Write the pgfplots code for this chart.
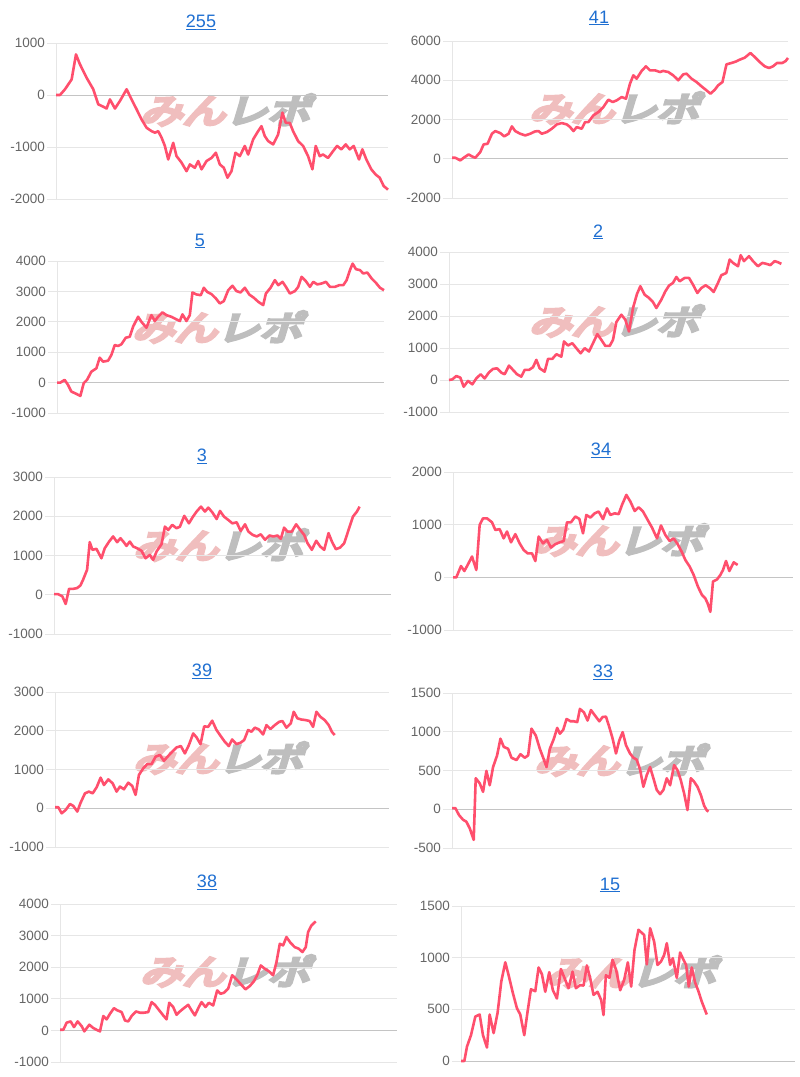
\documentclass[border=0pt]{standalone}
\usepackage{fontspec}
\setmainfont{Liberation Sans}
\newfontfamily\cjk{Noto Sans CJK JP}[FakeBold=10]
\usepackage{pgfplots}
\pgfplotsset{compat=1.18}
\definecolor{linec}{HTML}{FF4F6D}
\definecolor{gridc}{HTML}{E6E6E6}
\definecolor{zeroc}{HTML}{C4C4C4}
\definecolor{tickc}{HTML}{666666}
\definecolor{titlec}{HTML}{1F6FD1}
\definecolor{wmpink}{HTML}{F0BEBE}
\definecolor{wmgray}{HTML}{BEBEBE}
\pgfplotsset{panel/.style={
  scale only axis, anchor=south west, xmin=0,
  axis x line=none, axis y line*=left,
  y axis line style={draw=gridc, line width=0.8bp},
  ymajorgrids, grid style={draw=gridc, line width=0.8bp},
  ytick style={draw=gridc, line width=0.8bp},
  major tick length=9bp, tick align=outside,
  yticklabel style={font=\fontsize{13.5bp}{14bp}\selectfont, text=tickc, inner sep=2bp},
  /pgf/number format/assume math mode=true,
  /pgf/number format/1000 sep={},
  scaled y ticks=false,
  extra y ticks={0}, extra y tick labels={},
  extra y tick style={grid style={draw=zeroc, line width=0.9bp}, ytick style={draw=none}},
  clip=false,
},
dline/.style={draw=linec, line width=2.6bp, mark=none, line join=round}}
\newcommand\ttl[2]{\node[font=\fontsize{18bp}{20bp}\selectfont, text=titlec] at #1 {\underline{#2}};}
\newcommand\wm[1]{\node[font=\cjk\fontsize{34bp}{34bp}\selectfont, xslant=0.3, xscale=1.25, inner sep=0] at #1 {\textcolor{wmpink}{みん}\textcolor{wmgray}{レポ}};}
\begin{document}
\begin{tikzpicture}
\useasboundingbox (0,0) rectangle (800bp,-1077bp);
\wm{(229bp,-110bp)}
\wm{(618bp,-108bp)}
\wm{(221bp,-327bp)}
\wm{(618bp,-321bp)}
\wm{(222bp,-545bp)}
\wm{(622bp,-540bp)}
\wm{(222bp,-758bp)}
\wm{(623bp,-760bp)}
\wm{(229bp,-971bp)}
\wm{(635bp,-972bp)}
\ttl{(201bp,-22bp)}{255}
\ttl{(599bp,-18bp)}{41}
\ttl{(200bp,-241bp)}{5}
\ttl{(598bp,-232bp)}{2}
\ttl{(202bp,-456bp)}{3}
\ttl{(601bp,-450bp)}{34}
\ttl{(202bp,-671bp)}{39}
\ttl{(603bp,-672bp)}{33}
\ttl{(207bp,-882bp)}{38}
\ttl{(610bp,-885bp)}{15}
% 255
\begin{axis}[panel, at={(56bp,-199bp)}, width=332bp, height=156bp, xmax=997, ymin=-2000, ymax=1000, ytick={-2000,-1000,0,1000}]
\addplot[dline] coordinates {(0,0)(12,0)(27,110)(47,300)(60,780)(72,590)(92,330)(112,110)(127,-180)(142,-225)(152,-260)(162,-85)(177,-260)(192,-115)(212,110)(227,-85)(242,-275)(257,-470)(272,-630)(287,-695)(297,-725)(307,-695)(317,-820)(327,-980)(337,-1240)(352,-920)(362,-1175)(377,-1300)(392,-1465)(402,-1335)(417,-1400)(427,-1270)(437,-1430)(452,-1270)(467,-1210)(480,-1110)(492,-1335)(504,-1400)(515,-1590)(527,-1465)(539,-1110)(552,-1175)(567,-980)(577,-1145)(592,-855)(607,-695)(617,-600)(627,-790)(637,-885)(652,-950)(667,-760)(680,-340)(690,-535)(702,-535)(712,-695)(727,-885)(742,-980)(757,-1175)(770,-1430)(780,-980)(792,-1175)(802,-1145)(817,-1210)(832,-1080)(844,-980)(857,-1045)(870,-950)(882,-1045)(894,-980)(910,-1240)(920,-1045)(932,-1240)(947,-1430)(960,-1530)(972,-1590)(984,-1750)(997,-1820)};
\end{axis}
% 41
\begin{axis}[panel, at={(452bp,-198bp)}, width=336bp, height=157bp, xmax=1010, ymin=-2000, ymax=6000, ytick={-2000,0,2000,4000,6000}]
\addplot[dline] coordinates {(0,50)(10,50)(25,-85)(35,50)(50,220)(60,120)(70,50)(85,340)(95,730)(107,765)(120,1275)(130,1410)(145,1310)(157,1140)(170,1275)(180,1650)(190,1410)(205,1275)(220,1190)(235,1275)(250,1395)(260,1410)(270,1275)(285,1360)(300,1530)(315,1750)(330,1820)(345,1750)(355,1615)(365,1410)(375,1615)(390,1530)(400,1870)(410,1870)(425,2210)(440,2380)(455,2635)(470,3010)(483,2890)(495,2975)(510,3145)(523,3060)(535,3825)(545,4250)(555,4080)(570,4475)(583,4710)(595,4505)(610,4505)(625,4420)(635,4475)(650,4420)(665,4250)(680,4000)(695,4300)(705,4335)(720,4080)(735,3910)(750,3690)(765,3485)(777,3315)(790,3520)(800,3740)(813,3910)(825,4810)(840,4880)(855,4965)(865,5050)(880,5150)(897,5390)(910,5185)(925,4930)(940,4710)(953,4625)(965,4710)(977,4880)(993,4880)(1003,4980)(1010,5135)};
\end{axis}
% 5
\begin{axis}[panel, at={(57bp,-413bp)}, width=327bp, height=152bp, xmax=980, ymin=-1000, ymax=4000, ytick={-1000,0,1000,2000,3000,4000}]
\addplot[dline] coordinates {(0,0)(10,0)(23,90)(33,-75)(43,-295)(58,-370)(70,-440)(80,-20)(90,90)(103,360)(118,470)(128,820)(138,690)(153,720)(163,910)(173,1235)(183,1205)(193,1260)(206,1475)(218,1510)(228,1840)(243,2165)(253,2000)(268,1805)(283,2220)(293,2025)(303,2165)(316,2310)(328,2220)(343,2165)(356,2090)(368,2025)(376,2245)(388,2025)(398,2220)(406,2965)(418,2900)(431,2875)(440,3120)(450,2985)(463,2910)(476,2770)(488,2605)(500,2680)(513,3040)(526,3185)(538,3010)(550,2965)(563,3120)(576,2900)(590,2790)(603,2660)(618,2550)(626,2930)(640,3120)(653,3370)(663,3205)(676,3315)(686,3150)(698,2930)(713,3010)(723,3150)(733,3480)(746,3335)(758,3150)(768,3315)(780,3230)(793,3260)(806,3315)(818,3150)(833,3150)(846,3205)(858,3205)(868,3370)(878,3700)(886,3915)(896,3730)(908,3700)(918,3590)(930,3620)(943,3425)(956,3280)(968,3120)(980,3040)};
\end{axis}
% 2
\begin{axis}[panel, at={(449bp,-412bp)}, width=340bp, height=160bp, xmax=1020, ymin=-1000, ymax=4000, ytick={-1000,0,1000,2000,3000,4000}]
\addplot[dline] coordinates {(0,0)(10,20)(22,125)(34,75)(44,-210)(57,-30)(70,-135)(82,50)(95,180)(107,50)(120,240)(132,345)(144,365)(157,230)(167,180)(180,450)(192,315)(204,180)(217,105)(227,315)(240,315)(252,400)(262,630)(272,365)(287,260)(297,660)(310,660)(322,805)(337,730)(345,1205)(357,1080)(370,1150)(382,995)(395,835)(407,995)(420,890)(432,1150)(445,1435)(457,1255)(469,1065)(482,1065)(492,1255)(502,1810)(517,2040)(529,1885)(540,1515)(552,2250)(564,2690)(574,2930)(587,2665)(600,2565)(612,2435)(622,2250)(637,2510)(649,2770)(660,2950)(672,3035)(682,3220)(692,3085)(707,3190)(720,3190)(732,2980)(745,2720)(757,2875)(770,2960)(782,2875)(794,2750)(807,3035)(817,3275)(832,3345)(842,3765)(852,3660)(867,3555)(875,3900)(885,3715)(900,3870)(912,3715)(927,3555)(940,3660)(952,3630)(964,3590)(977,3715)(987,3680)(997,3630)};
\end{axis}
% 3
\begin{axis}[panel, at={(54bp,-634bp)}, width=337bp, height=157bp, xmax=1009, ymin=-1000, ymax=3000, ytick={-1000,0,1000,2000,3000}]
\addplot[dline] coordinates {(0,15)(12,15)(25,-40)(35,-235)(45,150)(57,150)(69,170)(79,235)(87,380)(99,635)(107,1340)(115,1145)(127,1170)(142,930)(152,1185)(165,1355)(177,1485)(189,1340)(199,1440)(209,1340)(217,1245)(227,1355)(237,1230)(249,1185)(262,1120)(274,930)(287,1015)(297,890)(307,1100)(322,1290)(332,1735)(342,1650)(354,1780)(367,1695)(377,1735)(390,2010)(404,1820)(415,1975)(427,2120)(440,2245)(452,2120)(462,2220)(474,2100)(487,1930)(497,2135)(509,1990)(522,1905)(534,1820)(547,1845)(559,1625)(572,1795)(582,1610)(595,1525)(607,1485)(619,1540)(632,1400)(645,1510)(657,1485)(669,1510)(679,1425)(689,1710)(699,1610)(712,1610)(725,1795)(737,1655)(749,1525)(759,1315)(772,1145)(785,1375)(797,1230)(809,1145)(822,1570)(832,1355)(844,1160)(857,1205)(869,1315)(882,1655)(895,1990)(907,2120)(915,2245)};
\end{axis}
% 34
\begin{axis}[panel, at={(453bp,-630bp)}, width=340bp, height=158bp, xmax=1020, ymin=-1000, ymax=2000, ytick={-1000,0,1000,2000}]
\addplot[dline] coordinates {(0,0)(10,0)(24,215)(34,120)(44,235)(57,395)(70,140)(80,995)(90,1120)(102,1120)(117,1045)(127,900)(140,915)(152,740)(162,870)(174,665)(187,820)(200,645)(212,520)(224,455)(237,455)(247,310)(257,775)(270,645)(282,710)(294,565)(307,630)(320,665)(332,690)(342,1045)(354,1045)(367,1155)(379,1110)(390,835)(400,1185)(412,1135)(425,1215)(437,1250)(450,1105)(462,1310)(472,1185)(485,1215)(497,1200)(507,1375)(520,1565)(532,1440)(545,1260)(557,1330)(570,1250)(584,1090)(597,945)(612,740)(624,985)(637,805)(650,690)(662,740)(674,630)(687,475)(697,330)(710,205)(722,45)(735,-180)(747,-335)(757,-400)(764,-495)(772,-655)(780,-80)(792,-40)(802,45)(810,140)(819,310)(829,120)(842,285)(854,235)};
\end{axis}
% 39
\begin{axis}[panel, at={(55bp,-847bp)}, width=334bp, height=155bp, xmax=1003, ymin=-1000, ymax=3000, ytick={-1000,0,1000,2000,3000}]
\addplot[dline] coordinates {(0,25)(10,25)(20,-130)(32,-45)(45,110)(55,60)(67,-85)(77,145)(90,385)(102,430)(113,385)(125,540)(137,790)(147,600)(160,745)(173,645)(185,430)(195,560)(207,490)(220,660)(232,575)(242,345)(252,860)(265,1030)(277,1140)(290,1140)(302,1330)(315,1375)(327,1225)(340,1350)(352,1460)(365,1570)(378,1605)(390,1415)(402,1630)(415,1930)(425,1830)(437,1655)(448,2115)(460,2100)(472,2260)(485,2020)(497,1870)(510,1715)(522,1605)(532,1775)(545,1655)(557,1690)(568,1760)(580,2020)(590,1975)(600,2080)(612,2035)(625,1905)(635,2145)(647,2045)(660,2145)(673,2230)(683,2250)(695,2080)(708,2190)(717,2490)(728,2320)(740,2290)(753,2275)(765,2250)(775,2100)(785,2490)(797,2360)(810,2275)(822,2145)(832,1965)(840,1890)};
\end{axis}
% 33
\begin{axis}[panel, at={(452bp,-848bp)}, width=340bp, height=155bp, xmax=1018, ymin=-500, ymax=1500, ytick={-500,0,500,1000,1500}]
\addplot[dline] coordinates {(0,15)(10,15)(21,-75)(33,-135)(43,-160)(53,-245)(65,-395)(71,400)(83,335)(93,225)(103,495)(113,310)(123,545)(135,695)(145,910)(155,805)(168,780)(178,665)(193,635)(205,710)(218,665)(228,695)(238,1040)(251,950)(263,780)(273,665)(283,545)(293,780)(305,910)(315,1050)(323,975)(333,1025)(343,1165)(355,1135)(365,1135)(375,1125)(383,1295)(395,1250)(406,1145)(416,1280)(428,1210)(441,1135)(451,1190)(461,1195)(471,1060)(481,910)(491,720)(501,890)(511,995)(521,825)(533,720)(543,665)(553,640)(563,515)(573,290)(583,440)(593,545)(603,400)(613,250)(623,195)(633,250)(643,400)(653,310)(665,570)(675,505)(685,375)(695,205)(705,-10)(715,400)(725,355)(735,290)(745,185)(755,45)(763,-15)(768,-30)};
\end{axis}
% 38
\begin{axis}[panel, at={(60bp,-1062bp)}, width=337bp, height=158bp, xmax=1012, ymin=-1000, ymax=4000, ytick={-1000,0,1000,2000,3000,4000}]
\addplot[dline] coordinates {(0,20)(10,20)(20,245)(32,285)(42,105)(53,285)(65,135)(73,-30)(88,180)(100,75)(110,20)(120,-30)(130,455)(140,350)(150,525)(162,705)(172,635)(185,580)(195,315)(205,285)(215,455)(228,600)(240,560)(252,560)(265,580)(275,895)(285,810)(298,635)(310,475)(320,350)(328,875)(340,740)(350,495)(360,600)(372,705)(385,810)(395,635)(405,475)(417,740)(425,895)(437,740)(447,875)(460,790)(472,1265)(482,1160)(492,1190)(505,1320)(517,1745)(530,1615)(542,1475)(557,1300)(570,1405)(582,1550)(592,1745)(603,2055)(615,1950)(628,1865)(640,1745)(650,2160)(660,2740)(670,2690)(680,2955)(692,2775)(705,2635)(717,2585)(728,2480)(738,2635)(745,3110)(755,3320)(768,3450)};
\end{axis}
% 15
\begin{axis}[panel, at={(461bp,-1061bp)}, width=334bp, height=155bp, xmax=1003, ymin=0, ymax=1500, ytick={0,500,1000,1500}]
\addplot[dline] coordinates {(0,0)(10,0)(18,140)(30,250)(43,430)(56,450)(66,250)(78,130)(86,450)(98,270)(110,470)(121,770)(133,955)(143,830)(156,655)(168,510)(178,450)(190,250)(200,480)(210,695)(223,675)(233,905)(243,840)(253,670)(265,860)(276,685)(288,605)(300,890)(313,785)(323,705)(335,865)(345,705)(358,735)(368,730)(378,925)(388,800)(398,640)(410,670)(421,590)(428,445)(435,830)(446,805)(455,980)(466,880)(478,685)(490,785)(501,955)(511,720)(521,1075)(533,1270)(543,1240)(550,1220)(558,935)(568,1285)(580,1155)(590,930)(600,960)(610,1025)(618,1140)(628,930)(636,995)(648,805)(658,1050)(668,980)(676,930)(684,720)(693,905)(703,760)(713,675)(723,575)(738,450)};
\end{axis}
\end{tikzpicture}
\end{document}
